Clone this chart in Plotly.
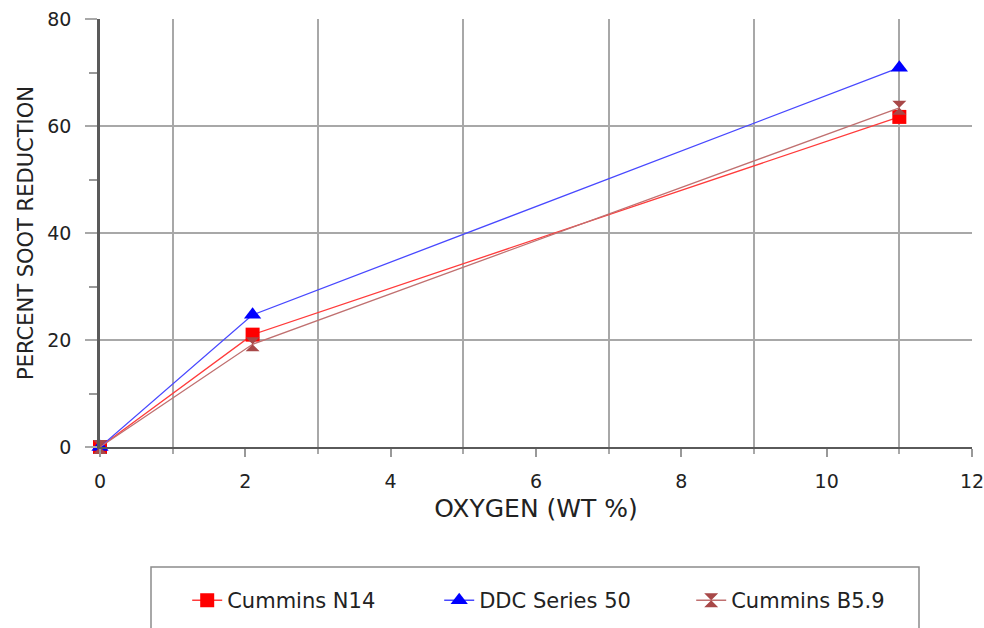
import plotly.graph_objects as go

# Soot reduction vs. fuel oxygen content for three engines
oxygen_wt = [0.0, 2.1, 11.0]
cummins_n14 = [0.0, 21.0, 61.7]
ddc_series_50 = [0.0, 24.7, 70.9]
cummins_b59 = [0.0, 19.2, 63.4]

x_labels = [0, 2, 4, 6, 8, 10, 12]
x_grid = [1, 3, 5, 7, 9, 11]
y_labels = [0, 20, 40, 60, 80]
y_minor = [10, 30, 50, 70]

FONT = "DejaVu Sans"
GRID = "#a8a8a8"
AXIS = "#5a5a5a"

fig = go.Figure()

series = [
    ("Cummins N14", cummins_n14, "#ff3b3b", dict(symbol="square", color="#ff0000", size=14)),
    ("DDC Series 50", ddc_series_50, "#4848ff", dict(symbol="triangle-up", color="#0000ff", size=15)),
    ("Cummins B5.9", cummins_b59, "#c07070", dict(symbol="hourglass", color="#a84848", size=14)),
]
for name, vals, lc, mk in series:
    fig.add_trace(go.Scatter(
        x=oxygen_wt, y=vals, name=name, mode="lines+markers",
        line=dict(color=lc, width=1.3),
        marker=dict(line=dict(width=0), **mk),
        cliponaxis=False,
    ))

fig.update_layout(
    width=984, height=628,
    margin=dict(l=100, r=12, t=19, b=181, autoexpand=False),
    paper_bgcolor="white", plot_bgcolor="white",
    font=dict(family=FONT, color="#222222"),
    showlegend=True,
    legend=dict(
        orientation="h", x=0.10, y=-0.311, xanchor="left", yanchor="top",
        bgcolor="rgba(0,0,0,0)", borderwidth=0,
        font=dict(size=21, family=FONT, color="#222222"),
        entrywidth=207, entrywidthmode="pixels",
    ),
    xaxis=dict(
        range=[0, 12], tickmode="array", tickvals=x_labels, automargin=False,
        ticks="outside", ticklen=8, tickwidth=1.5, tickcolor="#999999",
        showgrid=False, zeroline=False,
        showline=True, linecolor=AXIS, linewidth=2,
        tickfont=dict(size=19, color="#222222"), ticklabelstandoff=8,
        ticklabeloverflow="allow",
        title=dict(text="OXYGEN (WT %)", font=dict(size=25, color="#222222"), standoff=9),
        minor=dict(tickmode="array", tickvals=x_grid, ticks="outside", ticklen=5,
                   tickcolor=GRID, tickwidth=2, showgrid=True, gridcolor=GRID, gridwidth=2),
    ),
    xaxis2=dict(
        range=[0, 12], overlaying="x", anchor="y", side="bottom", automargin=False,
        tickmode="array", tickvals=x_labels, ticks="inside", ticklen=8,
        tickwidth=1.5, tickcolor="#999999",
        showticklabels=False, showgrid=False, zeroline=False, showline=False,
    ),
    yaxis=dict(
        range=[0, 80], tickmode="array", tickvals=y_labels, automargin=False,
        ticks="outside", ticklen=12, tickwidth=2, tickcolor=GRID,
        showgrid=True, gridcolor=GRID, gridwidth=2, zeroline=False,
        showline=True, linecolor=AXIS, linewidth=2.5,
        tickfont=dict(size=19, color="#222222"), ticklabelstandoff=10,
        title=dict(text="PERCENT SOOT REDUCTION", font=dict(size=21, color="#222222"), standoff=8),
        minor=dict(tickmode="array", tickvals=y_minor, ticks="outside", ticklen=8,
                   tickcolor="#999999", tickwidth=1.5, showgrid=False),
    ),
    yaxis2=dict(
        range=[0, 80], overlaying="y", anchor="x", side="left", automargin=False,
        tickmode="array", tickvals=y_minor, ticks="inside", ticklen=8,
        tickwidth=1.5, tickcolor="#999999",
        showticklabels=False, showgrid=False, zeroline=False, showline=False,
    ),
    yaxis3=dict(
        range=[0, 80], overlaying="y", anchor="x", side="right", automargin=False,
        showline=True, linecolor="#222222", linewidth=1.5,
        ticks="", showticklabels=False, showgrid=False, zeroline=False,
    ),
    shapes=[dict(
        type="rect", xref="paper", yref="paper",
        x0=(151 - 100) / 872, x1=(919 - 100) / 872,
        y0=(447 - 650) / 428, y1=(447 - 567) / 428,
        line=dict(color="#8c8c8c", width=1.5), fillcolor="rgba(0,0,0,0)", layer="below",
    )],
)

fig.write_html("out.html")
